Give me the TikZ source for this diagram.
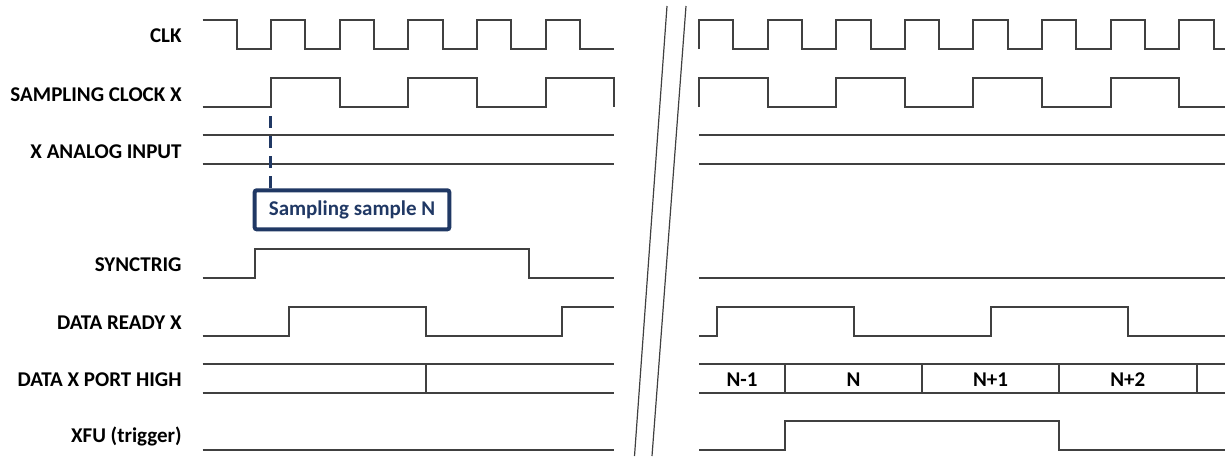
\documentclass[tikz,border=0pt]{standalone}
\usepackage{fontspec}
\setmainfont{Carlito}
\usetikzlibrary{positioning}
\definecolor{navy}{RGB}{32,56,100}
\definecolor{wire}{RGB}{64,64,64}

\begin{document}
\begin{tikzpicture}[
    x=0.5pt, y=-0.5pt,
    sig/.style={draw=wire, line width=1pt},
    lbl/.style={anchor=east, inner sep=0pt, font=\bfseries\fontsize{10.5}{12}\selectfont},
    cell/.style={inner sep=0pt, font=\bfseries\fontsize{10.5}{12}\selectfont},
    notebox/.style={draw=navy, line width=2pt, rounded corners=1pt, minimum width=97.3pt,
        minimum height=19.5pt, inner sep=0pt, outer sep=0pt, text=navy,
        font=\bfseries\fontsize{10.5}{12}\selectfont},
    guide/.style={draw=navy, line width=1.5pt, dash pattern=on 6pt off 4pt},
    brk/.style={draw=wire, line width=0.6pt}
]
    \useasboundingbox (0,0) rectangle (1225,456);

    % Signal names (right aligned)
    \node[lbl] (nclk)  at (182,36)    {CLK};
    \node[lbl] (nsmp)  at (182,94.5)  {SAMPLING CLOCK X};
    \node[lbl] (nana)  at (182,151.5) {X ANALOG INPUT};
    \node[lbl] (nsync) at (182,265)   {SYNCTRIG};
    \node[lbl] (nrdy)  at (182,322.5) {DATA READY X};
    \node[lbl] (nport) at (182,379.5) {DATA X PORT HIGH};
    \node[lbl] (nxfu)  at (182,436.5) {XFU (trigger)};

    % Left part: CLK
    \draw[sig] (202.5,20) -| (236.8,49) -| (271.1,20) -| (305.4,49) -| (339.7,20)
        -| (374.0,49) -| (408.3,20) -| (442.6,49) -| (476.9,20) -| (511.2,49)
        -| (545.5,20) -| (579.8,49) -- (614.1,49);
    % Left part: sampling clock
    \draw[sig] (202.5,107) -| (271.1,78) -| (339.7,107) -| (408.3,78) -| (476.9,107)
        -| (545.5,78) -| (614.1,107);
    % Left part: analog input
    \draw[sig] (202.5,135) -- (614.1,135);
    \draw[sig] (202.5,164) -- (614.1,164);
    % Left part: synctrig, data ready
    \draw[sig] (202.5,278) -| (255,249) -| (528.5,278) -- (614.1,278);
    \draw[sig] (202.5,335.5) -| (289,307) -| (425.7,335.5) -| (562.4,307) -- (614.1,307);
    % Left part: data port
    \draw[sig] (202.5,364) -- (614.1,364);
    \draw[sig] (202.5,392.5) -- (614.1,392.5);
    \draw[sig] (425.7,364) -- (425.7,392.5);
    % Left part: XFU
    \draw[sig] (202.5,449.5) -- (614.1,449.5);

    % Sampling note
    \node[notebox] (note) at (352,209.8) {Sampling sample N};
    \coordinate (edge) at (270.5,116);
    \draw[guide] (edge) -- (edge |- note.north);

    % Break marks
    \draw[brk] (667,6) -- (634.5,456);
    \draw[brk] (686,6) -- (652,456);

    % Right part: CLK
    \draw[sig] (699,49) -- (699,20) -| (733.3,49) -| (767.6,20) -| (801.9,49) -| (836.2,20)
        -| (870.5,49) -| (904.8,20) -| (939.1,49) -| (973.4,20) -| (1007.7,49)
        -| (1042.0,20) -| (1076.3,49) -| (1110.6,20) -| (1144.9,49) -| (1179.2,20)
        -| (1213.5,49) -- (1225,49);
    % Right part: sampling clock
    \draw[sig] (699,107) -- (699,78) -| (767.6,107) -| (836.2,78) -| (904.8,107)
        -| (973.4,78) -| (1042.0,107) -| (1110.6,78) -| (1179.2,107) -- (1225,107);
    % Right part: analog input, synctrig
    \draw[sig] (699,135) -- (1225,135);
    \draw[sig] (699,164) -- (1225,164);
    \draw[sig] (699,278) -- (1225,278);
    % Right part: data ready
    \draw[sig] (699,335.5) -| (716.8,307) -| (853.9,335.5) -| (990.6,307) -| (1127.7,335.5)
        -- (1225,335.5);
    % Right part: data port
    \draw[sig] (699,364) -- (1225,364);
    \draw[sig] (699,392.5) -- (1225,392.5);
    \foreach \x in {785.3,922,1059,1196.6}
        \draw[sig] (\x,364) -- (\x,392.5);
    \node[cell] (dm1) at (742,379.5)    {N-1};
    \node[cell] (d0)  at (853.6,379.5)  {N};
    \node[cell] (dp1) at (990.5,379.5)  {N+1};
    \node[cell] (dp2) at (1127.8,379.5) {N+2};
    % Right part: XFU
    \draw[sig] (699,449.5) -| (785.3,421) -| (1059,449.5) -- (1225,449.5);
\end{tikzpicture}
\end{document}
